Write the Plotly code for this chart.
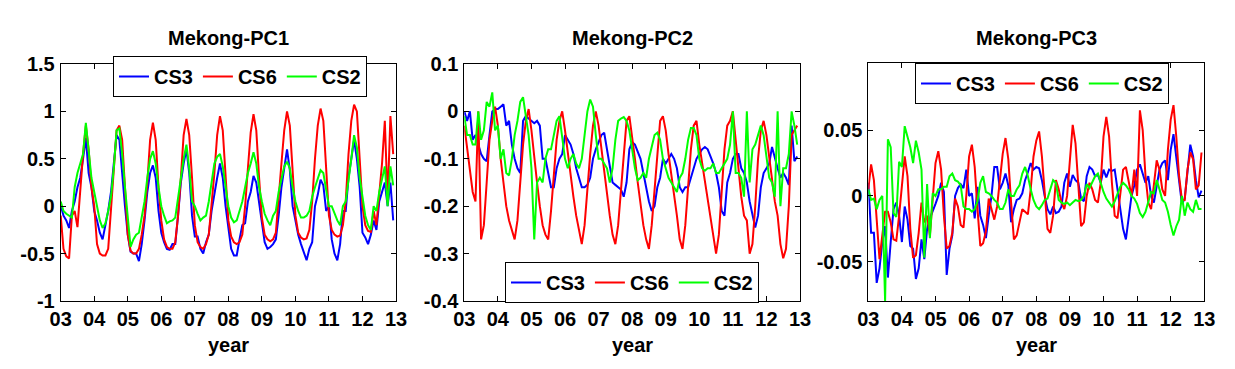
import plotly.graph_objects as go

# ---------------- data (monthly, Jan 2003 .. Dec 2012) ----------------
year_ticks = [2003, 2004, 2005, 2006, 2007, 2008, 2009, 2010, 2011, 2012, 2013]
year_labels = ["03", "04", "05", "06", "07", "08", "09", "10", "11", "12", "13"]
series_names = ["CS3", "CS6", "CS2"]
panel_titles = ["Mekong-PC1", "Mekong-PC2", "Mekong-PC3"]

pc1_cs3 = [
    0.01, -0.1, -0.15, -0.23, -0.05, 0.05, 0.2, 0.3, 0.5, 0.72, 0.35, 0.2,
    -0.05, -0.15, -0.28, -0.35, -0.2, -0.05, 0.15, 0.45, 0.75, 0.7, 0.3, 0.0,
    -0.3, -0.48, -0.5, -0.5, -0.58, -0.4, -0.15, 0.15, 0.35, 0.43, 0.3, -0.05,
    -0.28, -0.38, -0.45, -0.46, -0.4, -0.4, -0.1, 0.25, 0.45, 0.6, 0.35, -0.1,
    -0.32, -0.32, -0.45, -0.5, -0.38, -0.3, -0.05, 0.15, 0.3, 0.45, 0.3, 0.0,
    -0.25, -0.45, -0.52, -0.52, -0.35, -0.2, -0.18, 0.05, 0.15, 0.32, 0.25, 0.05,
    -0.2, -0.38, -0.45, -0.43, -0.4, -0.35, -0.1, 0.2, 0.4, 0.6, 0.38, 0.0,
    -0.15, -0.3, -0.4, -0.48, -0.57, -0.45, -0.38, 0.0, 0.12, 0.28, 0.22, -0.05,
    0.0, -0.35, -0.5, -0.57, -0.4, -0.05, -0.05, 0.3, 0.5, 0.7, 0.5, 0.2,
    -0.28, -0.33, -0.4, -0.3, -0.15, -0.25, 0.05, 0.15, 0.25, 0.0, 0.25, -0.15,
]
pc1_cs6 = [
    -0.1, -0.45, -0.53, -0.55, -0.1, -0.05, -0.22, 0.2, 0.55, 0.85, 0.6, 0.2,
    0.0, -0.4, -0.5, -0.52, -0.52, -0.45, -0.05, 0.45, 0.8, 0.85, 0.7, 0.2,
    -0.3, -0.47, -0.5, -0.5, -0.45, -0.3, -0.1, 0.25, 0.7, 0.88, 0.7, 0.2,
    -0.15, -0.35, -0.43, -0.45, -0.45, -0.38, -0.1, 0.3, 0.75, 0.92, 0.75, 0.3,
    -0.2, -0.38, -0.43, -0.45, -0.4, -0.3, 0.0, 0.35, 0.75, 0.95, 0.8, 0.3,
    -0.15, -0.32, -0.38, -0.4, -0.38, -0.3, 0.0, 0.4, 0.78, 0.97, 0.8, 0.3,
    -0.12, -0.3, -0.35, -0.37, -0.35, -0.28, 0.05, 0.45, 0.8, 1.0, 0.85, 0.35,
    -0.1, -0.28, -0.33, -0.35, -0.34, -0.25, 0.05, 0.5, 0.85, 1.03, 0.9, 0.4,
    -0.1, -0.25, -0.3, -0.32, -0.31, -0.2, 0.05, 0.55, 0.9, 1.07, 1.0, 0.5,
    0.0, -0.2, -0.26, -0.27, -0.05, -0.2, 0.1, 0.45, 0.9, 0.05, 0.95, 0.55,
]
pc1_cs2 = [
    0.05, -0.05, -0.08, -0.1, -0.12, 0.2, 0.35, 0.45, 0.55, 0.88, 0.55, 0.3,
    0.15, 0.0, -0.15, -0.23, -0.18, -0.05, 0.1, 0.4, 0.8, 0.82, 0.55, 0.2,
    -0.15, -0.43, -0.35, -0.3, -0.28, -0.1, 0.05, 0.3, 0.5, 0.58, 0.45, 0.2,
    0.0, -0.1, -0.18, -0.16, -0.15, -0.12, 0.1, 0.3, 0.5, 0.65, 0.4, 0.05,
    0.0, -0.08, -0.15, -0.12, -0.1, 0.05, 0.25, 0.45, 0.52, 0.55, 0.42, 0.2,
    0.0, -0.12, -0.17, -0.15, -0.05, 0.05, 0.2, 0.35, 0.45, 0.57, 0.45, 0.2,
    0.05, -0.08, -0.15, -0.2, -0.1, -0.05, 0.15, 0.3, 0.42, 0.47, 0.4, 0.2,
    0.05, -0.05, -0.12, -0.12, -0.1, -0.05, 0.1, 0.2, 0.3, 0.38, 0.35, 0.15,
    0.0, 0.0, -0.08, -0.15, -0.2, 0.0, 0.05, 0.25, 0.5, 0.75, 0.62, 0.3,
    0.1, -0.1, -0.2, -0.25, 0.0, -0.05, 0.15, 0.3, 0.42, 0.0, 0.42, 0.22,
]

pc2_cs3 = [
    0.0, -0.02, 0.0, -0.06, -0.05, -0.07, -0.09, -0.1, -0.105, -0.05, 0.0, 0.005,
    0.005, 0.01, 0.015, -0.03, -0.02, -0.07, -0.1, -0.12, -0.13, -0.02, -0.01, -0.015,
    -0.02, -0.025, -0.02, -0.03, -0.1, -0.1, -0.13, -0.16, -0.16, -0.12, -0.1, -0.09,
    -0.05, -0.06, -0.07, -0.09, -0.12, -0.14, -0.16, -0.16, -0.155, -0.14, -0.1, -0.08,
    -0.065, -0.05, -0.045, -0.08, -0.12, -0.15, -0.155, -0.16, -0.165, -0.18, -0.15, -0.08,
    -0.065, -0.07, -0.085, -0.1, -0.13, -0.16, -0.19, -0.21, -0.2, -0.16, -0.14, -0.1,
    -0.11, -0.1, -0.09, -0.1, -0.12, -0.16, -0.17, -0.16, -0.16, -0.14, -0.12, -0.1,
    -0.09, -0.08, -0.075, -0.08, -0.095, -0.11, -0.13, -0.16, -0.21, -0.22, -0.15, -0.13,
    -0.1, -0.09, -0.09, -0.12, -0.13, -0.15, -0.19, -0.22, -0.245, -0.22, -0.16, -0.13,
    -0.12, -0.11, -0.075, -0.1, -0.12, -0.14, -0.13, -0.14, -0.155, -0.03, -0.105, -0.095,
]
pc2_cs6 = [
    -0.03, -0.08, -0.13, -0.17, -0.19, 0.0, -0.27, -0.24, -0.15, -0.06, -0.02, 0.01,
    -0.03, -0.1, -0.15, -0.2, -0.23, -0.25, -0.27, -0.23, -0.15, -0.07, -0.02, 0.005,
    -0.04, -0.1, -0.15, -0.2, -0.24, -0.26, -0.27, -0.21, -0.13, -0.06, -0.02, 0.0,
    -0.04, -0.09, -0.13, -0.18, -0.22, -0.25, -0.28, -0.24, -0.16, -0.09, -0.03, 0.0,
    -0.03, -0.08, -0.13, -0.18, -0.22, -0.26, -0.28, -0.24, -0.16, -0.08, -0.02, -0.01,
    -0.05, -0.1, -0.15, -0.2, -0.24, -0.27, -0.29, -0.24, -0.16, -0.08, -0.02, -0.01,
    -0.04, -0.09, -0.13, -0.18, -0.22, -0.27, -0.29, -0.24, -0.16, -0.08, -0.03, -0.02,
    -0.07, -0.11, -0.15, -0.19, -0.23, -0.27, -0.3, -0.26, -0.17, -0.08, -0.03, -0.02,
    0.0, -0.06, -0.12, -0.18, -0.22, -0.23, -0.3, -0.28, -0.2, -0.1, -0.04, -0.02,
    -0.05, -0.1, -0.15, -0.19, -0.22, -0.28, -0.31, -0.29, -0.2, -0.05, -0.04, -0.03,
]
pc2_cs2 = [
    -0.01, -0.05, -0.05, -0.07, -0.07, 0.0, -0.06, -0.04, 0.02, 0.01, 0.04, -0.04,
    -0.03, -0.1, -0.08, -0.13, -0.135, -0.1, -0.05, -0.02, 0.02, 0.03, -0.01, -0.05,
    -0.12, -0.27, -0.15, -0.14, -0.15, -0.1, -0.08, -0.08, -0.05, -0.02, -0.01, -0.05,
    -0.1, -0.12, -0.1, -0.09, -0.11, -0.12, -0.1, -0.05, 0.0, 0.025, 0.01, -0.05,
    -0.1, -0.1, -0.11, -0.12, -0.15, -0.12, -0.06, -0.02, -0.015, -0.012, -0.02, -0.04,
    -0.08, -0.12, -0.145, -0.14, -0.13, -0.14, -0.1, -0.075, -0.05, -0.045, -0.06, -0.1,
    -0.12, -0.14, -0.15, -0.16, -0.17, -0.14, -0.13, -0.1, -0.06, -0.035, -0.035, -0.05,
    -0.1, -0.12, -0.125, -0.12, -0.12, -0.11, -0.13, -0.13, -0.12, -0.11, -0.1, -0.07,
    0.0, -0.13, -0.13, -0.14, -0.18, 0.0, -0.15, -0.08, -0.07, -0.05, -0.03, -0.05,
    -0.1, -0.14, -0.15, -0.18, 0.0, -0.2, -0.12, -0.12, -0.09, 0.0, -0.03, -0.07,
]

pc3_cs3 = [
    0.01, -0.028, -0.028, -0.066, -0.055, -0.035, -0.023, -0.062, -0.035, -0.01, -0.005, -0.015,
    -0.035, -0.008, -0.018, -0.038, -0.04, -0.063, -0.055, -0.033, -0.048, -0.025, -0.017, -0.012,
    -0.006, 0.0, 0.01, 0.003, -0.06, -0.04, -0.03, 0.0, 0.006, 0.009, 0.006, 0.02,
    0.0, 0.002, -0.017, 0.007, -0.015, -0.022, -0.032, -0.015, 0.0, 0.022, 0.022, 0.005,
    0.01, 0.017, 0.008, -0.02, -0.01, -0.003, -0.002, 0.002, 0.012, 0.018, 0.025, 0.02,
    0.022, 0.021, 0.012, 0.0, -0.01, -0.014, -0.008, -0.013, -0.012, -0.008, 0.01, 0.017,
    0.007, 0.016, 0.012, 0.01, -0.002, -0.004, 0.015, 0.022, 0.02, 0.015, 0.016, 0.01,
    0.02, 0.014, 0.02, 0.019, 0.02, 0.005, -0.01, -0.025, -0.033, -0.015, 0.0, 0.008,
    0.02, 0.024, 0.017, 0.01, 0.015, 0.0, -0.005, 0.008, 0.02, 0.025, 0.027, 0.012,
    0.035, 0.047, 0.03, 0.01, -0.006, -0.002, 0.02, 0.039, 0.03, 0.012, -0.001, 0.004,
]
pc3_cs6 = [
    0.005, 0.024, 0.012, -0.02, -0.048, -0.03, -0.012, -0.012, -0.02, -0.033, -0.034, -0.015,
    0.005, 0.03, 0.015, -0.025, -0.047, -0.045, -0.028, -0.005, -0.02, -0.015, -0.03, -0.005,
    0.025, 0.034, 0.02, -0.015, -0.04, -0.038, -0.028, -0.002, -0.008, -0.022, -0.024, 0.0,
    0.03, 0.039, 0.022, -0.01, -0.038, -0.036, -0.027, -0.002, -0.01, -0.018, -0.008, 0.015,
    0.032, 0.044, 0.028, -0.005, -0.033, -0.03, -0.02, -0.01, -0.012, -0.014, 0.005, 0.03,
    0.042, 0.049, 0.03, 0.0, -0.025, -0.028, -0.015, 0.012, 0.005, -0.005, -0.01, 0.0,
    0.03, 0.054, 0.04, 0.01, -0.023, -0.02, 0.0, 0.01, 0.005, -0.003, -0.005, 0.01,
    0.045, 0.06, 0.045, 0.01, -0.015, -0.017, 0.0, 0.02, 0.022, 0.01, 0.0, 0.02,
    0.0, 0.065, 0.05, 0.015, -0.005, -0.01, 0.01, 0.027, 0.02, 0.005, 0.0, 0.035,
    0.058, 0.069, 0.045, 0.015, -0.003, -0.003, 0.02, 0.033, 0.028, 0.005, 0.008, 0.033,
]
pc3_cs2 = [
    0.005, -0.003, -0.002, -0.01, -0.003, 0.0, -0.08, 0.043, 0.037, -0.013, -0.016, 0.026,
    0.022, 0.053, 0.045, 0.037, 0.025, 0.042, 0.033, 0.02, -0.047, 0.009, -0.032, 0.002,
    0.0, 0.005, 0.005, 0.007, 0.007, 0.015, 0.017, 0.012, 0.011, 0.008, -0.008, -0.01,
    -0.01, -0.012, -0.01, -0.004, 0.01, 0.015, 0.003, 0.002, 0.0, -0.003, -0.005, -0.01,
    -0.01, -0.005, 0.005, 0.0, 0.0, 0.005, 0.008, 0.017, 0.022, 0.015, 0.005, -0.003,
    -0.008, -0.01, -0.007, -0.003, -0.002, 0.005, 0.012, 0.01, -0.003, -0.005, -0.006, -0.005,
    -0.007, -0.005, -0.003, -0.004, -0.003, 0.0, 0.009, 0.006, 0.01, 0.015, 0.017, 0.01,
    0.003, -0.002, -0.005, -0.008, -0.004, 0.002, 0.007, 0.01, 0.008, 0.005, 0.0, -0.002,
    -0.006, -0.013, -0.016, -0.012, -0.004, 0.003, 0.002, 0.012, 0.005, -0.003, -0.005, -0.012,
    -0.022, -0.03, -0.023, -0.018, 0.0, -0.015, -0.005, -0.01, -0.012, -0.003, -0.01, -0.01,
]

pc1_yticks = [-1, -0.5, 0, 0.5, 1, 1.5]
pc1_ylabels = ["-1", "-0.5", "0", "0.5", "1", "1.5"]
pc2_yticks = [-0.4, -0.3, -0.2, -0.1, 0, 0.1]
pc2_ylabels = ["-0.4", "-0.3", "-0.2", "-0.1", "0", "0.1"]
pc3_yticks = [-0.05, 0, 0.05]
pc3_ylabels = ["-0.05", "0", "0.05"]

# ---------------- figure ----------------
# the page body has an 8px margin, so the figure starts at (8, 8)
OFF = 8
W, H = 1235 - OFF, 369 - OFF
FONT = "Liberation Sans, Arial, sans-serif"
FS = 20
colors = ["#0000ff", "#ff0000", "#00ff00"]


def fx(px):
    return (px - OFF) / W


def fy(py):
    return 1 - (py - OFF) / H


x = [year_ticks[0] + i / 12 for i in range(len(pc1_cs3))]

panels = [
    dict(data=[pc1_cs3, pc1_cs6, pc1_cs2], yt=pc1_yticks, yl=pc1_ylabels, yr=[-1, 1.5],
         px=(60.7, 396.0), py=(64, 301), leg=(113, 56)),
    dict(data=[pc2_cs3, pc2_cs6, pc2_cs2], yt=pc2_yticks, yl=pc2_ylabels, yr=[-0.4, 0.1],
         px=(464.3, 800.0), py=(64, 301), leg=(505, 262)),
    dict(data=[pc3_cs3, pc3_cs6, pc3_cs2], yt=pc3_yticks, yl=pc3_ylabels, yr=[-0.0798, 0.101],
         px=(868.3, 1204.3), py=(63, 301), leg=(915, 63)),
]

fig = go.Figure()
bold = dict(family=FONT, size=FS, color="black", weight="bold")
layout = dict(
    width=W, height=H,
    margin=dict(l=0, r=0, t=0, b=0, autoexpand=False),
    paper_bgcolor="white", plot_bgcolor="white",
    font=bold,
    annotations=[],
)

for k, p in enumerate(panels):
    sfx = "" if k == 0 else str(k + 1)
    legname = "legend" + sfx
    for j, (vals, name) in enumerate(zip(p["data"], series_names)):
        fig.add_trace(go.Scatter(
            x=x, y=vals, mode="lines", name=name,
            line=dict(color=colors[j], width=2),
            xaxis="x" + sfx, yaxis="y" + sfx,
            legend=legname,
        ))
    x0, x1 = p["px"]
    y0, y1 = p["py"]
    axis_common = dict(
        showline=True, linecolor="black", linewidth=1, mirror="ticks",
        ticks="inside", ticklen=5, tickcolor="black", tickwidth=1,
        showgrid=False, zeroline=False, automargin=False,
        tickfont=bold,
    )
    layout["xaxis" + sfx] = dict(
        axis_common, domain=[fx(x0), fx(x1)], range=[year_ticks[0], year_ticks[-1]],
        tickvals=year_ticks, ticktext=year_labels, anchor="y" + sfx,
        ticklabelstandoff=0,
    )
    layout["yaxis" + sfx] = dict(
        axis_common, domain=[fy(y1), fy(y0)], range=p["yr"],
        tickvals=p["yt"], ticktext=p["yl"], anchor="x" + sfx,
        ticklabelstandoff=1,
    )
    lx, ly = p["leg"]
    layout[legname] = dict(
        x=fx(lx), y=fy(ly), xanchor="left", yanchor="top",
        orientation="h", bgcolor="white", bordercolor="black", borderwidth=1,
        font=bold, itemwidth=30, tracegroupgap=0,
    )
    layout["annotations"].append(dict(
        text=panel_titles[k], x=fx((x0 + x1) / 2), y=fy(38),
        xref="paper", yref="paper", xanchor="center", yanchor="middle",
        showarrow=False, font=bold,
    ))
    layout["annotations"].append(dict(
        text="year", x=fx((x0 + x1) / 2), y=fy(345),
        xref="paper", yref="paper", xanchor="center", yanchor="middle",
        showarrow=False, font=bold,
    ))

fig.update_layout(**layout)
fig.write_html("out.html")
